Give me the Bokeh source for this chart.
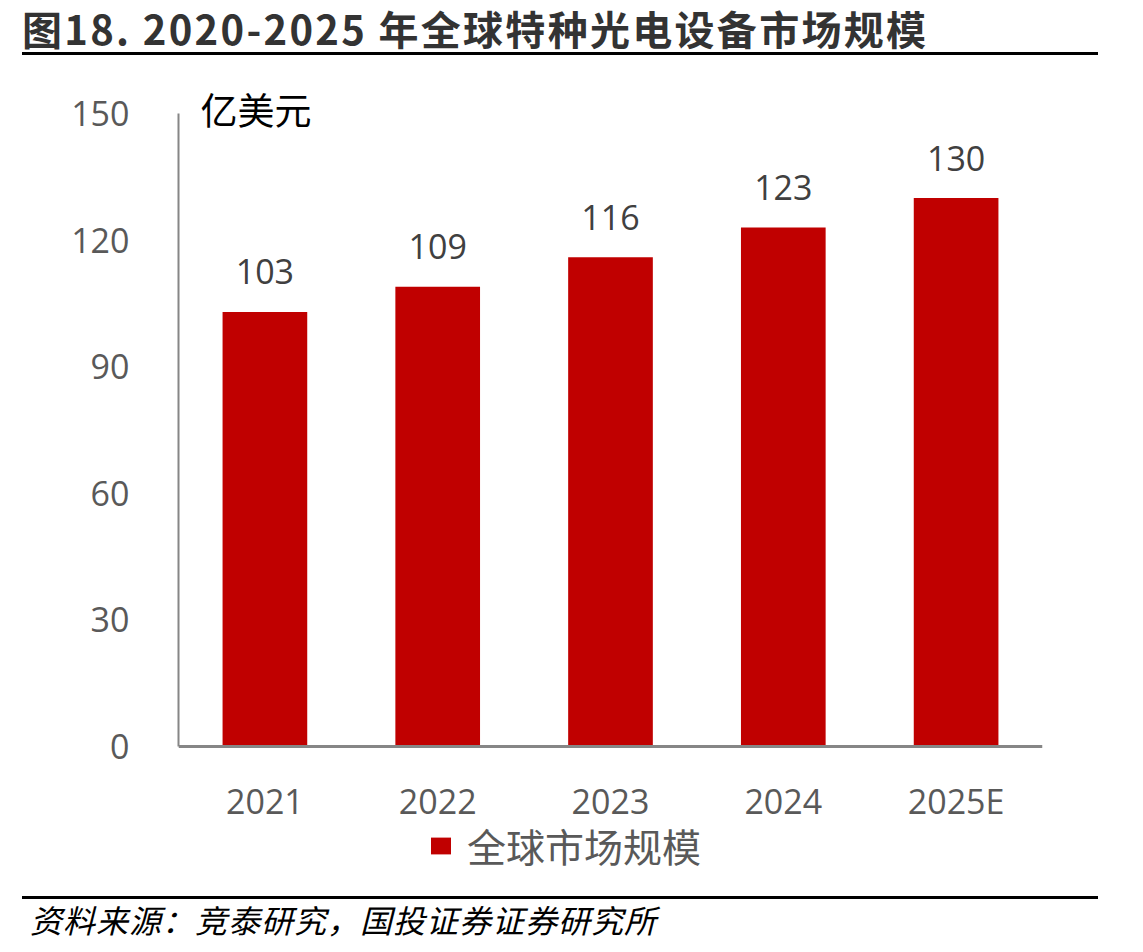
from bokeh.plotting import figure
from bokeh.layouts import column
from bokeh.models import (ColumnDataSource, Range1d, FixedTicker, Label,
                          Legend, LegendItem, Div)
from bokeh.core.properties import value
from bokeh.embed import file_html
from bokeh.resources import INLINE

# data
years = ["2021", "2022", "2023", "2024", "2025E"]
market_size = [103, 109, 116, 123, 130]
y_ticks = [0, 30, 60, 90, 120, 150]

title_text = "图18. 2020-2025 年全球特种光电设备市场规模"
unit_text = "亿美元"
series_name = "全球市场规模"
source_text = "资料来源：竞泰研究，国投证券证券研究所"

CJK = "Noto Sans CJK SC"
NUM = "Open Sans"
RED = "#C00000"
GREY = "#595959"
AXIS = "#868686"
W = 1143

source = ColumnDataSource(dict(year=years, size=market_size,
                               label=[str(v) for v in market_size]))

# the frame reaches above 150 (unit label) and below 0 (year labels, legend);
# the axis lines are held to the 0..150 data area
p = figure(x_range=years, y_range=Range1d(-31.75, 160), width=W, height=838,
           output_backend="svg", toolbar_location=None,
           min_border_left=178, min_border_right=101,
           min_border_top=13, min_border_bottom=16)
p.outline_line_color = None
p.grid.visible = False
p.background_fill_color = "white"
p.border_fill_color = "white"

bars = p.vbar(x="year", top="size", width=0.49, source=source,
              fill_color=RED, line_color=None)

p.text(x="year", y="size", text="label", source=source,
       text_align="center", text_baseline="alphabetic", y_offset=-40,
       text_font=value(NUM), text_font_size="34px", text_color="#404040")

# axes
p.yaxis.ticker = FixedTicker(ticks=y_ticks)
p.yaxis.bounds = (0, 150)
p.yaxis.major_tick_line_color = None
p.yaxis.minor_tick_line_color = None
p.yaxis.axis_line_color = AXIS
p.yaxis.axis_line_width = 2
p.yaxis.major_label_standoff = 43
p.yaxis.major_label_text_font = NUM
p.yaxis.major_label_text_font_size = "34px"
p.yaxis.major_label_text_color = GREY

p.xaxis.fixed_location = 0
p.xaxis.major_tick_line_color = None
p.xaxis.minor_tick_line_color = None
p.xaxis.axis_line_color = AXIS
p.xaxis.axis_line_width = 3
p.xaxis.major_label_standoff = 25
p.xaxis.major_label_text_font = NUM
p.xaxis.major_label_text_font_size = "34px"
p.xaxis.major_label_text_color = GREY

# legend under the year labels
legend = Legend(items=[LegendItem(label=series_name, renderers=[bars])],
                location=(250, 7), orientation="horizontal",
                glyph_width=25, glyph_height=21, label_standoff=14,
                padding=0, margin=0, border_line_color=None,
                background_fill_alpha=0,
                label_text_font=CJK, label_text_font_size="39px",
                label_text_color=GREY)
p.add_layout(legend, "center")

# unit label
p.add_layout(Label(x=22, y=772, x_units="screen", y_units="screen",
                   text=unit_text, text_font=CJK, text_font_size="37px",
                   text_color="black", text_baseline="middle"))

title_div = Div(width=W, height=58, margin=(0, 0, 0, 0), text=(
    '<div style="margin-left:22px;width:1076px;height:55px;'
    'border-bottom:3px solid #000;font-family:\'Noto Sans CJK SC\';'
    'font-weight:bold;font-size:40px;line-height:56px;color:#333;'
    'letter-spacing:2.3px;white-space:nowrap">' + title_text + '</div>'))

source_div = Div(width=W, height=56, margin=(0, 0, 0, 0), text=(
    '<div style="margin-left:22px;width:1076px;border-top:3px solid #000;'
    'font-family:\'Noto Sans CJK SC\';font-style:italic;font-size:32px;'
    'line-height:40px;padding-left:8px;color:#000;letter-spacing:1px;'
    'white-space:nowrap">' + source_text + '</div>'))

layout = column(title_div, p, source_div, spacing=0)

open("out.html", "w").write(file_html(layout, INLINE))
